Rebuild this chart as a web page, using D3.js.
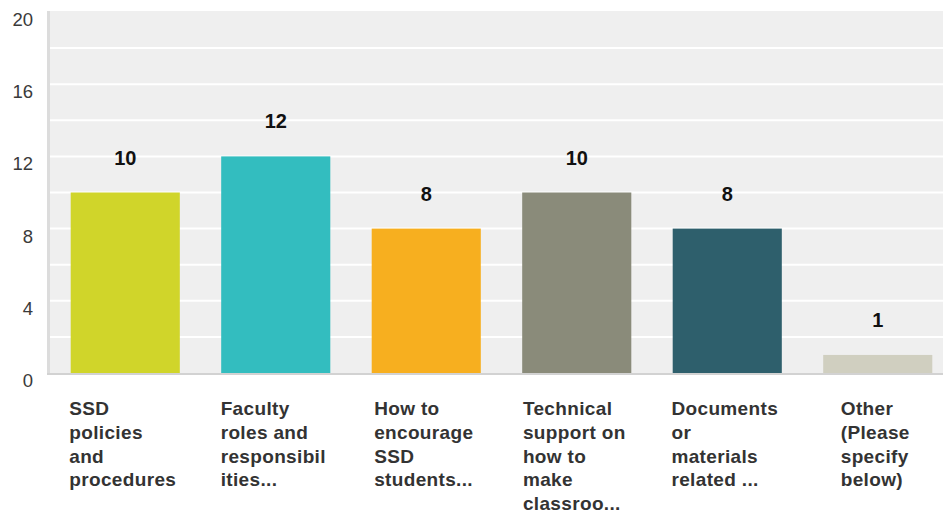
<!DOCTYPE html>
<html>
<head>
<meta charset="utf-8">
<script src="https://cdn.jsdelivr.net/npm/d3@7"></script>
<style>
  html, body { margin: 0; padding: 0; background: #fff; }
  svg { display: block; font-family: "Liberation Sans", Arial, sans-serif; }
</style>
</head>
<body>
<svg id="chart" width="943" height="515"></svg>
<script>
// Survey answers: number of respondents per training topic
const categories = [
  ["SSD", "policies", "and", "procedures"],
  ["Faculty", "roles and", "responsibil", "ities..."],
  ["How to", "encourage", "SSD", "students..."],
  ["Technical", "support on", "how to", "make", "classroo..."],
  ["Documents", "or", "materials", "related ..."],
  ["Other", "(Please", "specify", "below)"]
];
const values = [10, 12, 8, 10, 8, 1];
const colors = ["#D0D52A", "#33BDBF", "#F7AF1F", "#8A8B7A", "#2E5F6C", "#D0CFC0"];
const yTicks = [0, 4, 8, 12, 16, 20];
const gridTicks = [2, 4, 6, 8, 10, 12, 14, 16, 18];

const svg = d3.select("#chart");
const plotLeft = 50, plotRight = 953, plotTop = 12, plotBottom = 373;

const x = d3.scaleBand()
  .domain(d3.range(values.length))
  .range([plotLeft, plotRight])
  .paddingInner(0.275)
  .paddingOuter(0.1375);

const y = d3.scaleLinear().domain([0, 20]).range([plotBottom, plotTop]);

// plot background
svg.append("rect")
  .attr("x", plotLeft).attr("y", plotTop - 1)
  .attr("width", plotRight - plotLeft).attr("height", plotBottom - plotTop + 1)
  .attr("fill", "#EFEFEF");

// horizontal gridlines
svg.append("g").selectAll("line")
  .data(gridTicks)
  .join("line")
  .attr("x1", plotLeft).attr("x2", plotRight)
  .attr("y1", d => y(d)).attr("y2", d => y(d))
  .attr("stroke", "#FFFFFF").attr("stroke-width", 2);

// left axis rule and baseline
svg.append("rect").attr("x", 47).attr("y", plotTop - 1)
  .attr("width", 3).attr("height", plotBottom - plotTop + 3).attr("fill", "#DCDCDC");
svg.append("rect").attr("x", 47).attr("y", plotBottom)
  .attr("width", plotRight - 47).attr("height", 2).attr("fill", "#D2D2D2");

// y tick labels
svg.append("g").selectAll("text")
  .data(yTicks)
  .join("text")
  .attr("x", 33)
  .attr("y", d => y(d) + 14)
  .attr("text-anchor", "end")
  .attr("font-size", 18.5)
  .attr("fill", "#3a3a3a")
  .text(d => d);

// bars
svg.append("g").selectAll("rect")
  .data(values)
  .join("rect")
  .attr("x", (d, i) => x(i))
  .attr("width", x.bandwidth())
  .attr("y", d => y(d))
  .attr("height", d => y(0) - y(d))
  .attr("fill", (d, i) => colors[i]);

// value labels
svg.append("g").selectAll("text")
  .data(values)
  .join("text")
  .attr("x", (d, i) => x(i) + x.bandwidth() / 2)
  .attr("y", d => y(d) - 28)
  .attr("text-anchor", "middle")
  .attr("font-size", 20)
  .attr("font-weight", "bold")
  .attr("fill", "#111111")
  .text(d => d);

// category labels: left-aligned lines, block centred under each bar
const labels = svg.append("g");
categories.forEach((lines, i) => {
  const t = labels.append("text")
    .attr("font-size", 19)
    .attr("letter-spacing", 0.35)
    .attr("font-weight", "bold")
    .attr("fill", "#333333");
  lines.forEach((ln, j) => {
    t.append("tspan").attr("y", 415 + j * 23.8).text(ln);
  });
  let maxW = 0;
  t.selectAll("tspan").each(function () {
    maxW = Math.max(maxW, this.getComputedTextLength());
  });
  const x0 = x(i) + x.bandwidth() / 2 - maxW / 2 - 2.5;
  t.selectAll("tspan").attr("x", x0);
});
</script>
</body>
</html>
